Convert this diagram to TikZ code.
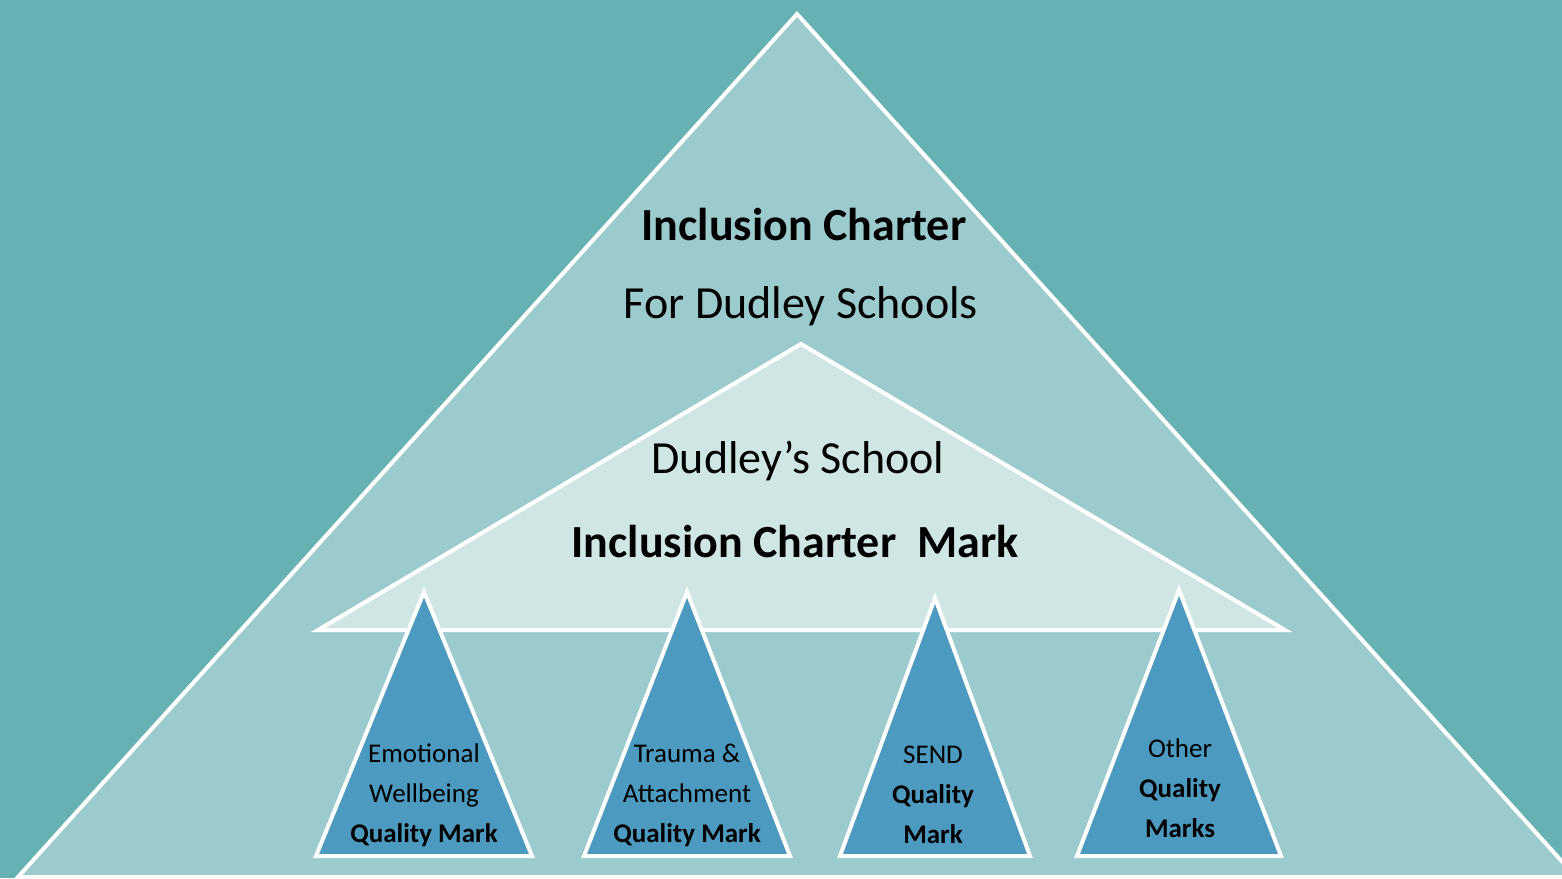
\documentclass[tikz,border=0pt]{standalone}
\usepackage{fontspec}
\setmainfont{Carlito}
\definecolor{bgc}{HTML}{66B2B3}
\definecolor{bigc}{HTML}{9BCBCC}
\definecolor{midc}{HTML}{CFE6E5}
\definecolor{smallc}{HTML}{4C9AC0}
\begin{document}
\begin{tikzpicture}[x=1pt,y=-1pt,
  tri/.style={draw=white,line width=4pt,line join=miter},
  bigtxt/.style={font=\fontsize{46}{50}\selectfont,text=black,inner sep=0pt},
  smalltxt/.style={font=\fontsize{27}{40}\selectfont,text=black,align=center,inner sep=0pt}]
\useasboundingbox (0,0) rectangle (1562,878);
\fill[bgc] (0,0) rectangle (1562,878);
\filldraw[tri,fill=bigc] (797,14) -- (18,877) -- (1576,877) -- cycle;
\filldraw[tri,fill=midc] (801,344) -- (318,630) -- (1285,630) -- cycle;
\filldraw[tri,fill=smallc] (424,592) -- (316,856) -- (532,856) -- cycle;
\filldraw[tri,fill=smallc] (687,592) -- (584,856) -- (790,856) -- cycle;
\filldraw[tri,fill=smallc] (935,598) -- (840,856) -- (1030,856) -- cycle;
\filldraw[tri,fill=smallc] (1179,590) -- (1077,856) -- (1281,856) -- cycle;
\node[bigtxt] (t1) at (804,225) {\textbf{Inclusion Charter}};
\node[bigtxt] (t2) at (801,306) {For Dudley Schools};
\node[bigtxt] (t3) at (798,461) {Dudley’s School};
\node[bigtxt] (t4) at (795,542) {\textbf{Inclusion Charter\ \ Mark}};
\node[smalltxt] (s1) at (424,795) {Emotional\\Wellbeing\\\textbf{Quality Mark}};
\node[smalltxt] (s2) at (687,795) {Trauma \&\\Attachment\\\textbf{Quality Mark}};
\node[smalltxt] (s3) at (933,795) {SEND\\\textbf{Quality}\\\textbf{Mark}};
\node[smalltxt] (s4) at (1180,788) {Other\\\textbf{Quality}\\\textbf{Marks}};
\end{tikzpicture}
\end{document}
